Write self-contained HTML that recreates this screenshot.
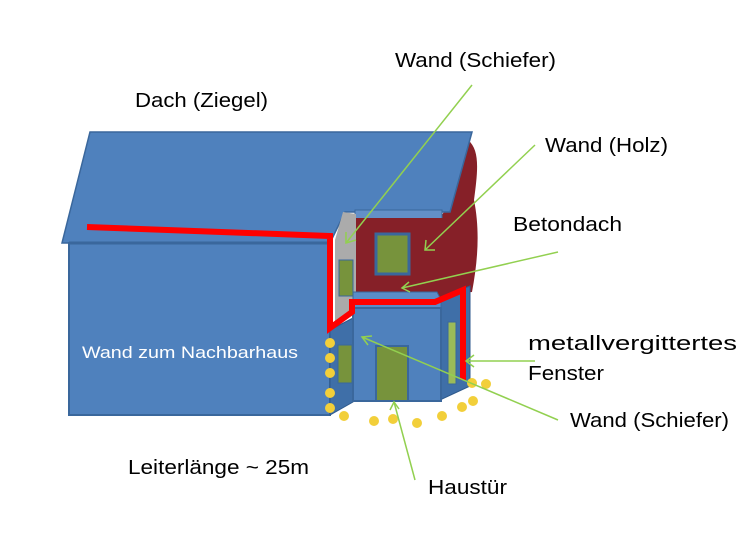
<!DOCTYPE html>
<html><head><meta charset="utf-8"><style>
html,body{margin:0;padding:0;background:#fff;}
svg{display:block;}
text{font-family:"Liberation Sans",sans-serif;fill:#000;}
</style></head><body>
<svg width="746" height="535" viewBox="0 0 746 535" xmlns="http://www.w3.org/2000/svg">
<path d="M468,140 C480,150 478,170 474,200 C480,230 478,260 472,292 L442,295 L442,215 C452,200 455,185 460,175 C462,160 465,150 468,140 Z" fill="#862028"/>
<polygon points="90,132 472,132 450,212 345,212 330,243 62,243" fill="#4F81BD" stroke="#3A679C" stroke-width="1.5"/>
<rect x="69" y="243" width="261" height="172" fill="#4F81BD" stroke="#3A679C" stroke-width="2"/>
<line x1="69" y1="243" x2="330" y2="243" stroke="#3A679C" stroke-width="3"/>
<polygon points="355,210 442,210 442,220 355,220" fill="#6390C8" stroke="#3A679C"/>
<rect x="355" y="218" width="90" height="80" fill="#862028"/>
<rect x="376" y="234" width="33" height="40" fill="#77933C" stroke="#3A679C" stroke-width="3"/>
<polygon points="343,212 356,214 356,305 335,325 335,240" fill="#ABABAB"/>
<rect x="339" y="260" width="14" height="36" fill="#77933C" stroke="#3A679C" stroke-width="1"/>
<polygon points="440,298 470,286 470,386 440,400" fill="#3F6FA8" stroke="#2F5A8C"/>
<rect x="448" y="322" width="8" height="62" fill="#9BBB59" stroke="#3A679C"/>
<polygon points="330,330 353,318 353,402 330,415" fill="#3F6FA8" stroke="#2F5A8C"/>
<rect x="338" y="345" width="14" height="38" fill="#77933C" stroke="#3A679C"/>
<polygon points="353,292 437,292 441,300 441,308 353,308" fill="#5A8CC8" stroke="#3A679C"/>
<rect x="353" y="308" width="88" height="93" fill="#4F81BD" stroke="#3A679C" stroke-width="2"/>
<rect x="376" y="346" width="32" height="55" fill="#77933C" stroke="#3A679C" stroke-width="2"/>
<polyline points="87,227 330,236 330,328 352,312 352,302 435,302 463,290 463,380" fill="none" stroke="#FF0000" stroke-width="6" stroke-linejoin="miter"/>
<g fill="#F2CF3A">
<circle cx="330" cy="343" r="5"/><circle cx="330" cy="358" r="5"/><circle cx="330" cy="373" r="5"/>
<circle cx="330" cy="393" r="5"/><circle cx="330" cy="408" r="5"/><circle cx="344" cy="416" r="5"/>
<circle cx="374" cy="421" r="5"/><circle cx="393" cy="419" r="5"/><circle cx="417" cy="423" r="5"/>
<circle cx="442" cy="416" r="5"/><circle cx="462" cy="407" r="5"/><circle cx="473" cy="401" r="5"/>
<circle cx="472" cy="383" r="5"/><circle cx="486" cy="384" r="5"/>
</g>
<g stroke="#92D050" stroke-width="1.5" fill="none">
<line x1="472" y1="85" x2="346" y2="243"/><polyline points="346,232 346,243 356,240"/>
<line x1="535" y1="145" x2="425" y2="250"/><polyline points="426,240 425,250 435,250"/>
<line x1="558" y1="252" x2="402" y2="288"/><polyline points="409,282 402,288 410,292"/>
<line x1="535" y1="361" x2="466" y2="361"/><polyline points="474,355 466,361 474,367"/>
<line x1="558" y1="420" x2="362" y2="337"/><polyline points="368,345 362,337 372,336"/>
<line x1="415" y1="480" x2="394" y2="402"/><polyline points="390,410 394,402 399,409"/>
</g>
<text x="135" y="107" font-size="20" textLength="133" lengthAdjust="spacingAndGlyphs">Dach (Ziegel)</text>
<text x="395" y="67" font-size="20" textLength="161" lengthAdjust="spacingAndGlyphs">Wand (Schiefer)</text>
<text x="545" y="152" font-size="20" textLength="123" lengthAdjust="spacingAndGlyphs">Wand (Holz)</text>
<text x="513" y="231" font-size="20" textLength="109" lengthAdjust="spacingAndGlyphs">Betondach</text>
<text x="528" y="350" font-size="20" textLength="209" lengthAdjust="spacingAndGlyphs">metallvergittertes</text>
<text x="528" y="380" font-size="20" textLength="76" lengthAdjust="spacingAndGlyphs">Fenster</text>
<text x="570" y="427" font-size="20" textLength="159" lengthAdjust="spacingAndGlyphs">Wand (Schiefer)</text>
<text x="428" y="494" font-size="20" textLength="79" lengthAdjust="spacingAndGlyphs">Haustür</text>
<text x="128" y="474" font-size="20" textLength="181" lengthAdjust="spacingAndGlyphs">Leiterlänge ~ 25m</text>
<text x="82" y="358" font-size="17" textLength="216" lengthAdjust="spacingAndGlyphs" style="fill:#fff">Wand zum Nachbarhaus</text>
</svg>
</body></html>
